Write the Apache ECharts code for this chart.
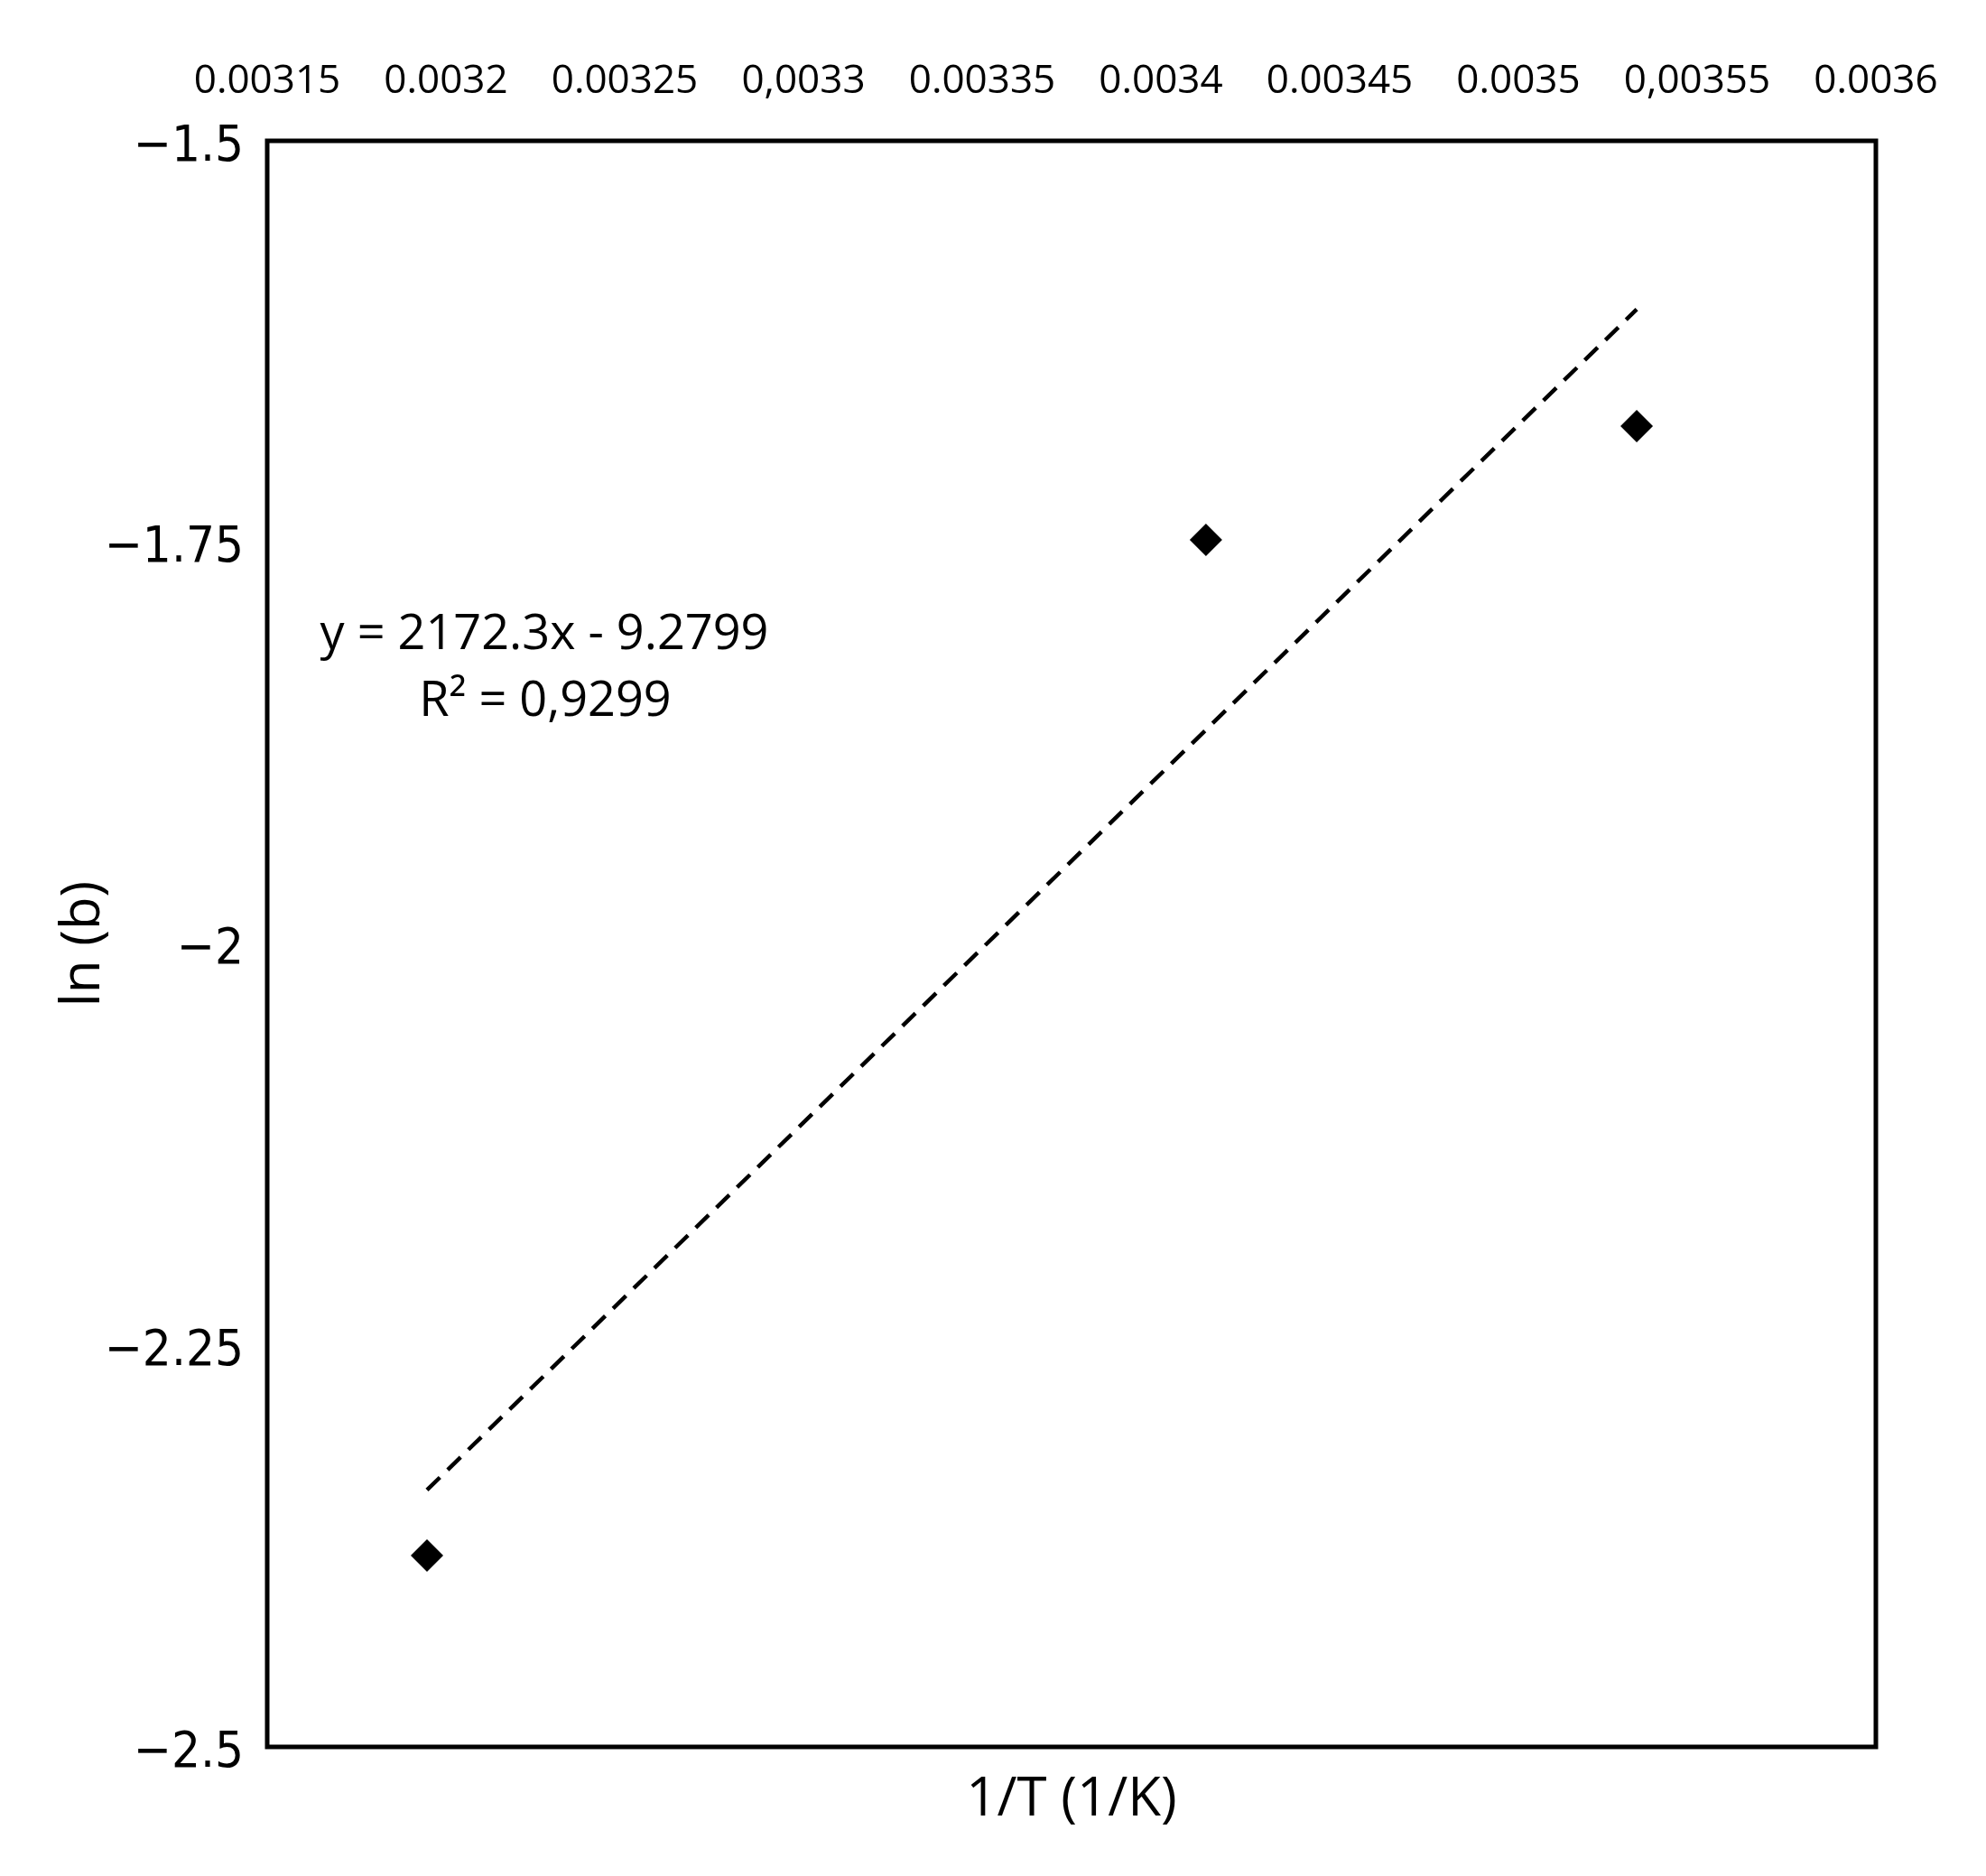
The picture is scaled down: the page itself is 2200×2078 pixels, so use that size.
<!DOCTYPE html>
<html>
<head>
<meta charset="utf-8">
<script src="https://cdn.jsdelivr.net/npm/echarts@6/dist/echarts.min.js"></script>
<style>
html,body{margin:0;padding:0;background:#fff;}
#chart{width:2200px;height:2078px;}
</style>
</head>
<body>
<div id="chart"></div>
<script>
// ---- data ----
const invT = [0.0031947, 0.0034126, 0.0035331];
const lnB = [-2.3808, -1.7485, -1.6776];
const trendSlope = 2172.3;
const trendIntercept = -9.2799;
const eqLine1 = 'y = 2172.3x - 9.2799';
const eqLine2 = 'R² = 0,9299';
const xTickLabels = ['0.00315','0.0032','0.00325','0,0033','0.00335','0.0034','0.00345','0.0035','0,00355','0.0036'];
const yTickLabels = ['−2.5','−2.25','−2','−1.75','−1.5'];
const xMin = 0.00315, xMax = 0.0036, xInterval = 0.00005;
const yMin = -2.5, yMax = -1.5, yInterval = 0.25;

const points = invT.map((x, i) => [x, lnB[i]]);
const xStart = invT[0], xEnd = invT[invT.length - 1];
const trend = [[xStart, trendSlope * xStart + trendIntercept], [xEnd, trendSlope * xEnd + trendIntercept]];

const chart = echarts.init(document.getElementById('chart'), null, {renderer: 'canvas'});
const option = {
  backgroundColor: '#ffffff',
  animation: false,
  grid: {left: 296, right: 122, top: 156, bottom: 143, show: true, borderColor: '#000', borderWidth: 5, backgroundColor: 'transparent'},
  xAxis: [{
    type: 'value', position: 'top', min: xMin, max: xMax, interval: xInterval,
    axisLine: {show: false}, axisTick: {show: false}, splitLine: {show: false},
    axisLabel: {
      show: true, margin: 44, color: '#000', fontFamily: 'Open Sans', fontSize: 44,
      formatter: v => xTickLabels[Math.round((v - xMin) / xInterval)] || ''
    }
  }, {
    type: 'value', position: 'bottom', min: xMin, max: xMax, interval: xInterval,
    axisLine: {show: false}, axisTick: {show: false}, splitLine: {show: false}, axisLabel: {show: false},
    name: '1/T (1/K)', nameLocation: 'middle', nameGap: 29,
    nameTextStyle: {color: '#000', fontFamily: 'Open Sans', fontSize: 60, verticalAlign: 'top'}
  },
  ],
  yAxis: {
    type: 'value', min: yMin, max: yMax, interval: yInterval,
    axisLine: {show: false}, axisTick: {show: false}, splitLine: {show: false},
    axisLabel: {
      show: true, margin: 26, color: '#000', fontFamily: "'DejaVu Sans Condensed', 'DejaVu Sans'", fontSize: 56,
      verticalAlign: 'top', lineHeight: 14,
      formatter: v => yTickLabels[Math.round((v - yMin) / yInterval)] || ''
    },
    name: 'ln (b)', nameLocation: 'middle', nameGap: 173, nameRotate: 90, nameMoveOverlap: false,
    nameTextStyle: {color: '#000', fontFamily: 'Open Sans', fontSize: 60}
  },
  series: [{
    type: 'line', data: trend, xAxisIndex: 0, showSymbol: false, symbol: 'none',
    lineStyle: {color: '#000', width: 4.5, type: [20, 12], cap: 'butt'}, z: 2, silent: true
  }, {
    type: 'scatter', data: points, xAxisIndex: 0, symbol: 'diamond', symbolSize: 36,
    itemStyle: {color: '#000', opacity: 1}, z: 3
  }],
  graphic: [{
    type: 'text', x: 603, y: 704,
    style: {text: eqLine1, font: '54px "Open Sans"', fill: '#000', align: 'center', verticalAlign: 'middle'}
  }, {
    type: 'text', x: 604, y: 778,
    style: {text: eqLine2, font: '54px "Open Sans"', fill: '#000', align: 'center', verticalAlign: 'middle'}
  }]
};
chart.setOption(option);
</script>
</body>
</html>
